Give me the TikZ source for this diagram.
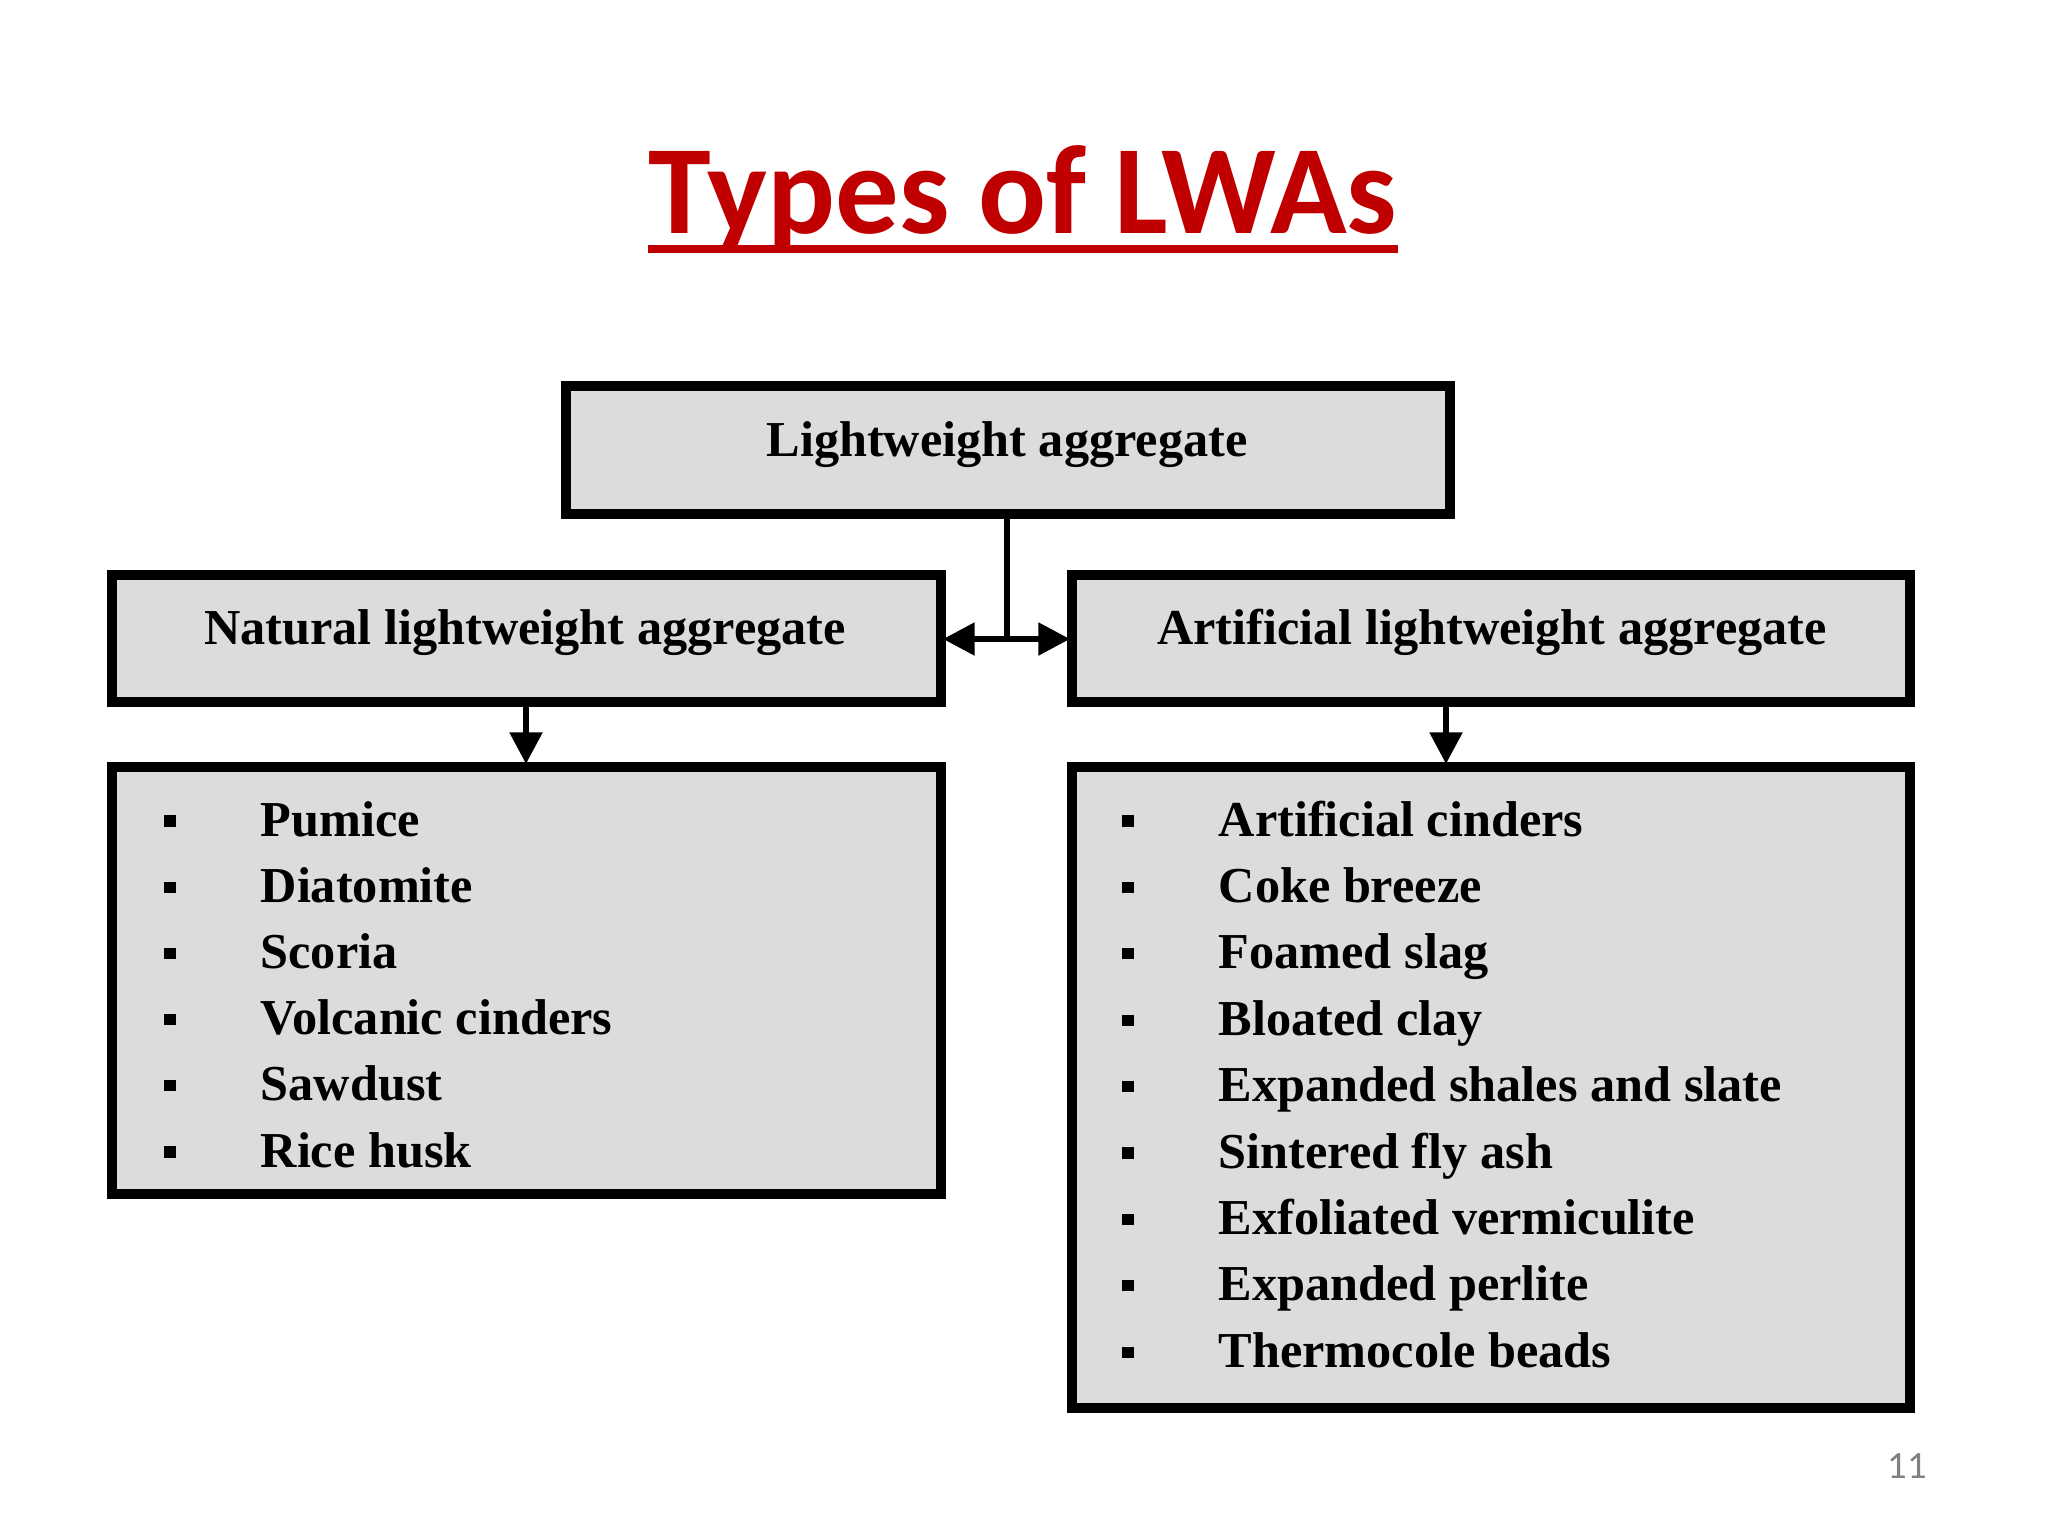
\documentclass[tikz,border=0pt]{standalone}
\usepackage{fontspec}
\setmainfont{Liberation Serif}
\newfontfamily\titlefont{Carlito}
\usetikzlibrary{arrows.meta}
\definecolor{boxgray}{HTML}{DCDCDE}
\definecolor{titlered}{HTML}{C00000}
\begin{document}
\begin{tikzpicture}[x=0.01cm,y=-0.01cm,
  gbox/.style={draw=black,line width=2.6pt,fill=boxgray},
  lbl/.style={font=\fontsize{14.3}{17}\selectfont\bfseries,anchor=base},
  item/.style={font=\fontsize{14.3}{17}\selectfont\bfseries,anchor=base west,inner sep=0pt},
  bul/.style={fill=black,minimum size=3.2pt,inner sep=0pt,anchor=center},
  conn/.style={line width=1.8pt,-{Triangle[length=9pt,width=9pt]}}]
\useasboundingbox (0,0) rectangle (2048,1536);
\node[font=\titlefont\fontsize{36}{42}\selectfont\bfseries,text=titlered,anchor=base,inner sep=0pt] (title) at (1023,233) {Types of LWAs};
\draw[titlered,line width=2.2pt] (title.west |- 0,249) -- (title.east |- 0,249);
\draw[gbox] (566,386) rectangle (1450,514);
\node[lbl] (top) at (1007,456) {Lightweight aggregate};
\draw[gbox] (112,575) rectangle (941,702);
\node[lbl] (nat) at (525,644) {Natural lightweight aggregate};
\draw[gbox] (1072,575) rectangle (1910,702);
\node[lbl] (art) at (1492,644) {Artificial lightweight aggregate};
\draw[gbox] (112,767) rectangle (941,1194);
\draw[gbox] (1072,767) rectangle (1910,1408);
\coordinate (tb) at (1007,517);
\coordinate (j) at (1007,639);
\coordinate (le) at (943,639);
\coordinate (re) at (1070,639);
\draw[line width=1.8pt] (tb) -- (j);
\draw[conn] (j) -- (le);
\draw[conn] (j) -- (re);
\coordinate (nb) at (526,705);
\coordinate (nl) at (526,764);
\coordinate (ab) at (1446,705);
\coordinate (al) at (1446,764);
\draw[conn] (nb) -- (nl);
\draw[conn] (ab) -- (al);
\foreach \t [count=\i from 0] in {Pumice,Diatomite,Scoria,Volcanic cinders,Sawdust,Rice husk}{
  \node[bul] (nb\i) at (170,821+66.2*\i) {};
  \node[item] (ni\i) at (260,836+66.2*\i) {\t};
}
\foreach \t [count=\i from 0] in {Artificial cinders,Coke breeze,Foamed slag,Bloated clay,Expanded shales and slate,Sintered fly ash,Exfoliated vermiculite,Expanded perlite,Thermocole beads}{
  \node[bul] (ab\i) at (1128,821+66.4*\i) {};
  \node[item] (ai\i) at (1218,836+66.4*\i) {\t};
}
\node[font=\titlefont\fontsize{11}{13}\selectfont,text=gray] (pg) at (1907,1466) {11};
\end{tikzpicture}
\end{document}
